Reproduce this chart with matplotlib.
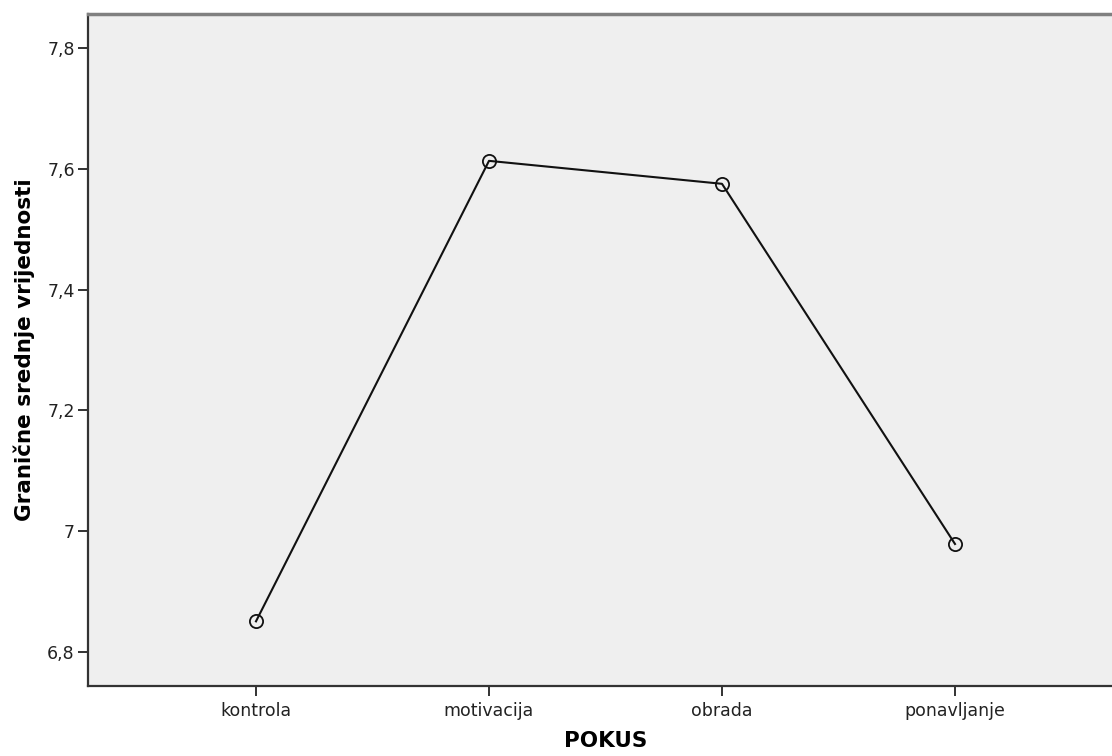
# Granične srednje vrijednosti po pokusu (SPSS-stil linijski graf)

import matplotlib
matplotlib.use('Agg')
import matplotlib.pyplot as plt

# podaci
kategorije = ['kontrola', 'motivacija', 'obrada', 'ponavljanje']
srednje = [6.851, 7.613, 7.575, 6.979]
y_ticks = [6.8, 7.0, 7.2, 7.4, 7.6, 7.8]
y_tick_labels = ['6,8', '7', '7,2', '7,4', '7,6', '7,8']

fig = plt.figure(figsize=(11.12, 7.56), dpi=100)
# os se proteže malo izvan desnog ruba slike kao u originalu
ax = fig.add_axes([88 / 1112, 70 / 756, 1035 / 1112, 672 / 756])
ax.set_facecolor('#efefef')

x = list(range(len(kategorije)))
ax.plot(x, srednje, color='#111111', linewidth=1.5, marker='o',
        markersize=9.5, markerfacecolor='none', markeredgecolor='#111111',
        markeredgewidth=1.3)

ax.set_xlim(-0.721, 3.721)
ax.set_ylim(6.744, 7.856)

ax.set_xticks(x)
ax.set_xticklabels(kategorije, fontsize=12.5, color='#222222')
ax.set_yticks(y_ticks)
ax.set_yticklabels(y_tick_labels, fontsize=12.5, color='#222222')

ax.tick_params(axis='both', direction='out', length=7.5, width=1.3, color='#222222')
ax.tick_params(axis='x', pad=4)
ax.tick_params(axis='y', pad=2)

# okvir
ax.spines['left'].set_color('#333333')
ax.spines['left'].set_linewidth(1.6)
ax.spines['bottom'].set_color('#333333')
ax.spines['bottom'].set_linewidth(1.6)
ax.spines['top'].set_color('#808080')
ax.spines['top'].set_linewidth(2.5)
ax.spines['right'].set_visible(False)

ax.set_xlabel('POKUS', fontsize=15.5, fontweight='bold', labelpad=8)
ax.set_ylabel('Granične srednje vrijednosti', fontsize=15.5, fontweight='bold', labelpad=9)

fig.savefig('out.png', dpi=100)
